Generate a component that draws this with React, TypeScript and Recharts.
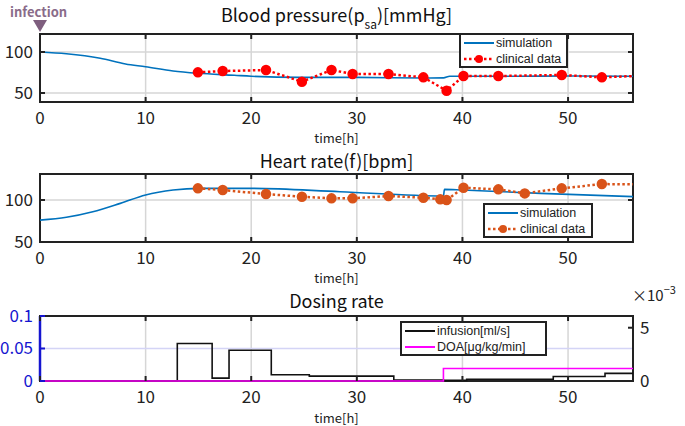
import React from "react";
import { LineChart, Line, XAxis, YAxis, CartesianGrid, ReferenceArea, ReferenceLine } from "recharts";

const FONT = "'Noto Sans CJK JP', 'Noto Sans', sans-serif";
const LEGEND_FONT = "'Liberation Sans', Arial, sans-serif";
const BLUE = "#0072BD";
const RED = "#FF0000";
const ORANGE = "#D95319";
const MAGENTA = "#FF00FF";
const AXISBLUE = "#1515D0";
const GRID = "#d6d6d6";

const X_MAX = 56.15;
const xTicks = [0, 10, 20, 30, 40, 50];

// blood pressure
const bpSimT = [0, 2.5, 5.7, 8.1, 10, 12.6, 15, 18.4, 20, 24.6, 30, 36.3, 38.2, 38.8, 40, 45, 50, X_MAX];
const bpSimV = [100, 97.8, 92.3, 85.4, 82, 76.8, 74, 71.6, 70.4, 69, 69, 68.3, 68.5, 70.5, 70.5, 70.5, 70.7, 70.5];
const bpClinT = [14.95, 17.3, 21.4, 24.8, 27.6, 29.6, 33.0, 36.3, 38.5, 40.1, 43.4, 49.4, 53.2, 57.5];
const bpClinV = [75.2, 76.8, 78, 63.8, 78, 73.2, 73.2, 69.1, 52.8, 70.7, 70.7, 72, 69.1, 71.3];
const bpTicks = [50, 100];

// heart rate
const hrSimT = [0, 2.5, 5, 7.6, 10, 12.6, 15.1, 20, 28.4, 38.2, 38.3, 40, 47.4, X_MAX];
const hrSimV = [76, 79.4, 86, 96, 106, 111.9, 113.9, 113.9, 109.9, 104.8, 112.7, 111.9, 107.9, 104];
const hrClinT = [14.95, 17.3, 21.4, 24.8, 27.6, 29.6, 33.0, 36.3, 37.9, 38.5, 40.1, 43.4, 45.9, 49.4, 53.2, 57.5];
const hrClinV = [113.9, 111.9, 107.1, 104, 102, 102, 104.8, 102.8, 100.8, 100, 114.7, 112.7, 107.9, 113.9, 119, 118.5];
const hrTicks = [50, 100];

// dosing
const infT = [0, 13.0, 16.3, 17.9, 21.9, 25.5, 33.5, 38.2, 40.4, 48.6, 53.5, X_MAX];
const infV = [0, 0.0576, 0.0044, 0.0473, 0.0097, 0.0075, 0.0015, 0.001, 0.0027, 0.0069, 0.0118, 0.0118];
const doaT = [0, 38.2, X_MAX];
const doaV = [0, 0.00118, 0.00118];
const doseTicks = [0, 0.05, 0.1];
const doaTicks = [0, 0.005];

const zip = (t: number[], v: number[]) => t.map((x, i) => ({ t: x, v: v[i] }));

const PLOT_W = 593;
const TICK_FS = 17;

const xTick = (plotH: number) => (p: any) => (
  <g>
    <line x1={p.x} x2={p.x} y1={p.y} y2={p.y - 5} stroke="#222" strokeWidth={2} />
    <line x1={p.x} x2={p.x} y1={p.y - plotH} y2={p.y - plotH + 5} stroke="#222" strokeWidth={2} />
    <text x={p.x} y={p.y + 22} textAnchor="middle" fontSize={TICK_FS} fill="#222" fontFamily={FONT}>
      {p.payload.value}
    </text>
  </g>
);

const yTick = (color: string, both: boolean) => (p: any) => (
  <g>
    <line x1={p.x} x2={p.x + 5} y1={p.y} y2={p.y} stroke={color} strokeWidth={2} />
    {both && <line x1={p.x + PLOT_W - 5} x2={p.x + PLOT_W} y1={p.y} y2={p.y} stroke="#222" strokeWidth={2} />}
    <text x={p.x - 7} y={p.y} dy="0.35em" textAnchor="end" fontSize={TICK_FS} fill={color} fontFamily={FONT}>
      {p.payload.value}
    </text>
  </g>
);

const rightTick = (p: any) => (
  <g>
    <line x1={p.x - 5} x2={p.x} y1={p.y} y2={p.y} stroke="#222" strokeWidth={2} />
    <text x={p.x + 7} y={p.y} dy="0.35em" textAnchor="start" fontSize={TICK_FS} fill="#222" fontFamily={FONT}>
      {Math.round(p.payload.value * 1000)}
    </text>
  </g>
);

const abs = (left: number, top: number, extra: React.CSSProperties = {}): React.CSSProperties => ({
  position: "absolute", left, top, ...extra,
});

function Title({ top, children }: { top: number; children: React.ReactNode }) {
  return (
    <div style={abs(0, top, { width: 673, textAlign: "center", fontSize: 18, lineHeight: "20px", color: "#111" })}>
      {children}
    </div>
  );
}

function TimeLabel({ top }: { top: number }) {
  return <div style={abs(0, top, { width: 673, textAlign: "center", fontSize: 13, lineHeight: "14px", color: "#222" })}>time[h]</div>;
}

function LegendBox({ left, top, width, items }: {
  left: number; top: number; width: number;
  items: { label: string; color: string; dotted?: boolean; marker?: boolean }[];
}) {
  return (
    <div style={abs(left, top, { width, height: 31, border: "2px solid #222", background: "#fff", fontFamily: LEGEND_FONT })}>
      {items.map((it, i) => (
        <div key={i} style={abs(2, 1 + i * 16, {
          display: "flex", alignItems: "center", height: 14, lineHeight: "14px",
          fontSize: 12.5, color: "#222", whiteSpace: "nowrap",
        })}>
          <svg width={32} height={14} style={{ marginRight: 1, flex: "none" }}>
            <line x1={1} x2={31} y1={7} y2={7} stroke={it.color} strokeWidth={it.dotted ? 2.5 : 2}
              strokeDasharray={it.dotted ? "2.5 2.5" : undefined} />
            {it.marker && <circle cx={16} cy={7} r={4} fill={it.color} />}
          </svg>
          <span>{it.label}</span>
        </div>
      ))}
    </div>
  );
}

export default function App() {
  return (
    <div style={{ position: "absolute", left: 0, top: 0, width: 685, height: 426, background: "#fff", fontFamily: FONT, overflow: "hidden" }}>
      <div style={abs(10, 4, { fontSize: 13, fontWeight: 700, color: "#8A6C8A", lineHeight: "16px" })}>infection</div>
      <svg style={abs(0, 0)} width={60} height={40}>
        <polygon points="33,20 47,20 40,32" fill="#7E5E7E" />
      </svg>

      <Title top={4}>
        Blood pressure(p<span style={{ fontSize: 12, position: "relative", top: 7 }}>sa</span>)[mmHg]
      </Title>
      <div style={abs(0, 0)}>
        <LineChart width={685} height={140} margin={{ top: 34, right: 52, bottom: 8, left: 0 }}>
          <CartesianGrid stroke={GRID} strokeWidth={1.5} />
          <XAxis dataKey="t" type="number" domain={[0, X_MAX]} ticks={xTicks} interval={0} allowDataOverflow
            tickSize={0} tickMargin={0} axisLine={false} tick={xTick(68)} height={30} />
          <YAxis type="number" domain={[39, 122]} ticks={bpTicks} interval={0} allowDataOverflow width={40}
            tickSize={0} tickMargin={0} axisLine={false} tick={yTick("#222", true)} />
          <ReferenceArea x1={0} x2={X_MAX} y1={39} y2={122} fill="none" stroke="#222" strokeWidth={2} />
          <Line data={zip(bpSimT, bpSimV)} dataKey="v" type="monotone" stroke={BLUE} strokeWidth={1.6} dot={false} isAnimationActive={false} />
          <Line data={zip(bpClinT, bpClinV)} dataKey="v" type="linear" stroke={RED} strokeWidth={2.5} strokeDasharray="2.5 2.5"
            dot={{ r: 4, fill: RED, stroke: RED, strokeDasharray: "0" }} isAnimationActive={false} />
        </LineChart>
      </div>
      <TimeLabel top={131} />
      <LegendBox left={459} top={33} width={105} items={[
        { label: "simulation", color: BLUE },
        { label: "clinical data", color: RED, dotted: true, marker: true },
      ]} />

      <Title top={150}>Heart rate(f)[bpm]</Title>
      <div style={abs(0, 140)}>
        <LineChart width={685} height={140} margin={{ top: 34, right: 52, bottom: 8, left: 0 }}>
          <CartesianGrid stroke={GRID} strokeWidth={1.5} />
          <XAxis dataKey="t" type="number" domain={[0, X_MAX]} ticks={xTicks} interval={0} allowDataOverflow
            tickSize={0} tickMargin={0} axisLine={false} tick={xTick(68)} height={30} />
          <YAxis type="number" domain={[50, 131]} ticks={hrTicks} interval={0} allowDataOverflow width={40}
            tickSize={0} tickMargin={0} axisLine={false} tick={yTick("#222", true)} />
          <ReferenceArea x1={0} x2={X_MAX} y1={50} y2={131} fill="none" stroke="#222" strokeWidth={2} />
          <Line data={zip(hrSimT, hrSimV)} dataKey="v" type="monotone" stroke={BLUE} strokeWidth={1.6} dot={false} isAnimationActive={false} />
          <Line data={zip(hrClinT, hrClinV)} dataKey="v" type="linear" stroke={ORANGE} strokeWidth={2.5} strokeDasharray="2.5 2.5"
            dot={{ r: 4, fill: ORANGE, stroke: ORANGE, strokeDasharray: "0" }} isAnimationActive={false} />
        </LineChart>
      </div>
      <TimeLabel top={271} />
      <LegendBox left={483} top={203} width={106} items={[
        { label: "simulation", color: BLUE },
        { label: "clinical data", color: ORANGE, dotted: true, marker: true },
      ]} />

      <Title top={290}>Dosing rate</Title>
      <div style={abs(632, 286, { fontSize: 15, color: "#222", lineHeight: "18px" })}>
        ×10<span style={{ fontSize: 11, position: "relative", top: -7 }}>−3</span>
      </div>
      <div style={abs(0, 282)}>
        <LineChart width={685} height={137} margin={{ top: 34, right: 0, bottom: 8, left: 0 }}>
          <CartesianGrid yAxisId="left" stroke={GRID} strokeWidth={1.5} horizontal={false} />
          <CartesianGrid yAxisId="left" stroke="#D4D4F6" strokeWidth={1.5} vertical={false} />
          <XAxis dataKey="t" type="number" domain={[0, X_MAX]} ticks={xTicks} interval={0} allowDataOverflow
            tickSize={0} tickMargin={0} axisLine={false} tick={xTick(65)} height={30} />
          <YAxis yAxisId="left" type="number" domain={[0, 0.1]} ticks={doseTicks} interval={0} width={40}
            tickSize={0} tickMargin={0} axisLine={false} tick={yTick(AXISBLUE, false)} />
          <YAxis yAxisId="right" orientation="right" type="number" domain={[0, 0.0061]} ticks={doaTicks} interval={0} width={52}
            tickSize={0} tickMargin={0} axisLine={false} tick={rightTick} />
          <ReferenceArea yAxisId="left" x1={0} x2={X_MAX} y1={0} y2={0.1} fill="none" stroke="#222" strokeWidth={2} />
          <ReferenceLine yAxisId="left" x={0} stroke={AXISBLUE} strokeWidth={2.5} />
          <Line yAxisId="left" data={zip(infT, infV)} dataKey="v" type="stepAfter" stroke="#111" strokeWidth={1.6} dot={false} isAnimationActive={false} />
          <Line yAxisId="right" data={zip(doaT, doaV)} dataKey="v" type="stepAfter" stroke={MAGENTA} strokeWidth={1.6} dot={false} isAnimationActive={false} />
        </LineChart>
      </div>
      <TimeLabel top={411} />
      <LegendBox left={400} top={321} width={143} items={[
        { label: "infusion[ml/s]", color: "#111" },
        { label: "DOA[μg/kg/min]", color: MAGENTA },
      ]} />
    </div>
  );
}
